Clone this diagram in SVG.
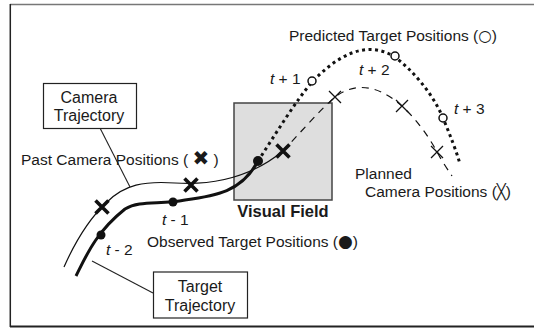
<svg xmlns="http://www.w3.org/2000/svg" width="534" height="328" viewBox="0 0 534 328">
<style>
text{font-family:"Liberation Sans",Arial,Helvetica,sans-serif;font-size:15.5px;fill:#1a1a1a}
.box{fill:#fff;stroke:#222;stroke-width:1.2}
.bt{font-size:16px;text-anchor:middle}
.sym{font-family:"DejaVu Sans",sans-serif}
.it{font-style:italic}
.lead{fill:none;stroke:#222;stroke-width:1.1}
.thick{fill:none;stroke:#111;stroke-width:3}
.thin{fill:none;stroke:#111;stroke-width:1.2}
.dotted{fill:none;stroke:#111;stroke-width:3;stroke-dasharray:3 3.5}
.dashed{fill:none;stroke:#111;stroke-width:1.2;stroke-dasharray:7 6}
.hx{fill:none;stroke:#111;stroke-width:3.6}
.tx{fill:none;stroke:#111;stroke-width:1.3}
.oc{fill:#fff;stroke:#111;stroke-width:1.5}
.fd{fill:#111}
</style>
<defs>
<path id="hxs" d="M-6.5,-6.5L6.5,6.5M6.5,-6.5L-6.5,6.5"/>
<path id="txs" d="M-6,-6L6,6M6,-6L-6,6"/>
</defs>
<g id="frame">
<line x1="10" y1="4.5" x2="534" y2="4.5" stroke="#777" stroke-width="1.5"/>
<line x1="10.3" y1="4" x2="10.3" y2="327" stroke="#222" stroke-width="1.5"/>
<line x1="10" y1="326.5" x2="534" y2="326.5" stroke="#222" stroke-width="2"/>
</g>
<g id="visual-field">
<rect x="234" y="103" width="98" height="97" fill="#dedede" stroke="#444" stroke-width="1.5"/>
<text x="283" y="217" text-anchor="middle" font-weight="bold" style="font-size:16.5px">Visual Field</text>
</g>
<g id="connectors">
<path class="thin" d="M64,267 C76,240 88,220 106,203 C124,184 145,181 175,183 C205,185 245,182 283,151"/>
<path class="dashed" d="M283,151 C300,133 318,112 335,97 C352,84 375,82 402,106 C415,118 428,135 437,152 C443,163 448,170 452,176"/>
<path class="thick" d="M76,276 C86,256 96,232 125,209 C140,200 160,205 185,200 C215,196 242,192 258,161"/>
<path class="dotted" d="M258,161 C275,135 295,102 312,82 C335,58 365,38 395,57 C412,70 432,92 443,118 C450,135 456,150 460,164"/>
<line class="lead" x1="100" y1="128" x2="130" y2="187"/>
<line class="lead" x1="153" y1="293" x2="92" y2="261"/>
</g>
<g id="past-camera-markers">
<use href="#hxs" class="hx" x="102" y="207"/>
<use href="#hxs" class="hx" x="191" y="185"/>
<use href="#hxs" class="hx" x="283" y="151"/>
</g>
<g id="planned-camera-markers">
<use href="#txs" class="tx" x="335" y="97"/>
<use href="#txs" class="tx" x="402" y="106"/>
<use href="#txs" class="tx" x="437" y="152"/>
</g>
<g id="observed-target-markers">
<circle class="fd" cx="101" cy="235" r="4.5"/>
<circle class="fd" cx="173" cy="202" r="4.5"/>
<circle class="fd" cx="258" cy="161" r="5"/>
</g>
<g id="predicted-target-markers">
<circle class="oc" cx="312" cy="81" r="4"/>
<circle class="oc" cx="395" cy="56" r="4"/>
<circle class="oc" cx="443" cy="118" r="4"/>
</g>
<g id="camera-trajectory">
<rect class="box" x="43.5" y="83.5" width="93" height="45"/>
<text class="bt" x="89" y="103">Camera</text>
<text class="bt" x="89" y="121">Trajectory</text>
</g>
<g id="target-trajectory">
<rect class="box" x="153.5" y="272" width="94" height="46"/>
<text class="bt" x="200" y="292">Target</text>
<text class="bt" x="200" y="311">Trajectory</text>
</g>
<g id="labels">
<text x="289" y="41">Predicted Target Positions (<tspan class="sym">○</tspan>)</text>
<text x="21" y="165">Past Camera Positions ( <tspan class="sym" style="font-size:20px">✖</tspan> )</text>
<text x="147" y="247">Observed Target Positions (<tspan class="sym" style="font-size:17px">●</tspan>)</text>
<text x="355" y="179">Planned</text>
<text x="365" y="197">Camera Positions (<tspan class="sym" style="font-size:15px">╳</tspan>)</text>
<text x="270" y="84"><tspan class="it">t</tspan> + 1</text>
<text x="359" y="75"><tspan class="it">t</tspan> + 2</text>
<text x="454" y="114"><tspan class="it">t</tspan> + 3</text>
<text x="162" y="225"><tspan class="it">t</tspan> - 1</text>
<text x="106" y="255"><tspan class="it">t</tspan> - 2</text>
</g>
</svg>
